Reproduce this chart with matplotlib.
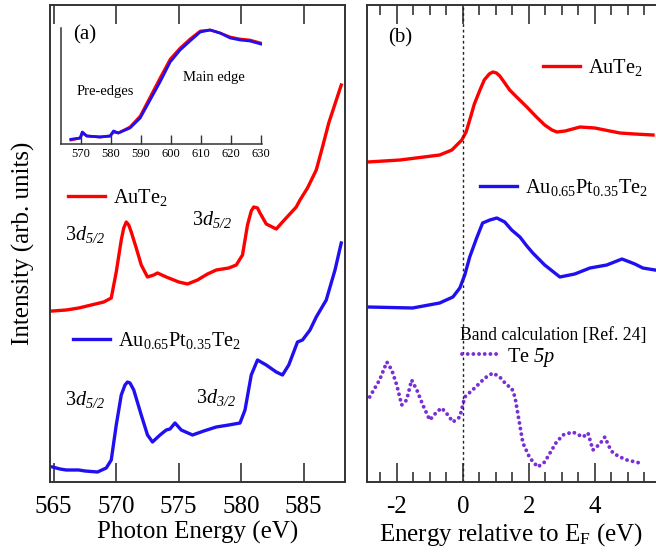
import numpy as np
import matplotlib
matplotlib.use('Agg')
import matplotlib.pyplot as plt
from matplotlib.legend import Legend
from matplotlib.ticker import MultipleLocator

plt.rcParams['font.family'] = ['Liberation Serif', 'DejaVu Serif']
plt.rcParams['mathtext.fontset'] = 'custom'
plt.rcParams['mathtext.rm'] = 'Liberation Serif'
plt.rcParams['mathtext.it'] = 'Liberation Serif:italic'
# \mathbf se usa como cursiva que tambien inclina los digitos (5/2, 5p)
plt.rcParams['mathtext.bf'] = 'Liberation Serif:italic'
plt.rcParams['axes.unicode_minus'] = False

ROJO = '#ff0000'
AZUL = '#2010f0'
MORADO = '#7a2ed6'
ESPINA = '#333333'

# (a) Te M-edge XAS, AuTe2 (rojo) y Au0.65Pt0.35Te2 (azul)
e_rojo_a = [564.9, 566, 567, 568, 569, 569.6, 570.0, 570.4, 570.6, 570.8, 571.0, 571.2,
            571.6, 572.0, 572.5, 573.0, 573.3, 574.0, 575.0, 575.7, 576.5, 577.3, 578.0,
            579.0, 579.6, 580.1, 580.5, 580.8, 581.0, 581.3, 581.5, 582.0, 582.8, 583.3,
            584.4, 584.7, 585.3, 586.0, 586.5, 587.0, 587.5, 588.0]
i_rojo_a = [1.71, 1.72, 1.74, 1.77, 1.80, 1.84, 2.10, 2.42, 2.54, 2.60, 2.57, 2.50,
            2.34, 2.17, 2.05, 2.07, 2.09, 2.05, 2.00, 1.98, 2.02, 2.08, 2.12,
            2.14, 2.17, 2.27, 2.57, 2.71, 2.75, 2.74, 2.69, 2.58, 2.53, 2.60,
            2.75, 2.82, 2.94, 3.12, 3.35, 3.59, 3.78, 3.97]

e_azul_a = [564.9, 565.5, 566, 567, 567.5, 568.5, 569.2, 569.6, 570.0, 570.4, 570.7, 570.9,
            571.1, 571.4, 572.0, 572.5, 572.9, 573.5, 574.0, 574.3, 574.7, 575.2, 576.1,
            577.0, 578.0, 579.0, 579.9, 580.3, 580.8, 581.3, 582.0, 582.8, 583.3, 583.8,
            584.5, 584.9, 585.5, 586.0, 586.8, 587.5, 588.0]
i_azul_a = [0.15, 0.13, 0.12, 0.12, 0.11, 0.10, 0.14, 0.22, 0.57, 0.87, 0.97, 1.00,
            0.99, 0.92, 0.67, 0.47, 0.40, 0.47, 0.52, 0.53, 0.59, 0.52, 0.47,
            0.51, 0.55, 0.57, 0.59, 0.72, 1.07, 1.22, 1.17, 1.10, 1.07, 1.17,
            1.40, 1.42, 1.52, 1.65, 1.82, 2.12, 2.39]

# inset: espectro amplio
e_inset = [566.7, 569.8, 570.5, 572, 576.4, 579.8, 580.9, 582.5, 586.4, 589.8, 593.1,
           596.4, 599.8, 603.1, 606.4, 609.8, 613.1, 616.4, 619.8, 623.1, 626.4, 630]
i_inset_rojo = [0.04, 0.06, 0.11, 0.08, 0.07, 0.08, 0.12, 0.11, 0.17, 0.28, 0.47,
                0.66, 0.85, 0.96, 1.05, 1.13, 1.14, 1.11, 1.07, 1.05, 1.04, 1.01]
i_inset_azul = [0.047, 0.06, 0.12, 0.08, 0.07, 0.08, 0.13, 0.11, 0.16, 0.26, 0.44,
                0.62, 0.82, 0.94, 1.03, 1.12, 1.14, 1.11, 1.06, 1.04, 1.03, 1.00]

# (b) energia relativa a E_F
e_rojo_b = [-2.88, -1.9, -0.7, -0.33, -0.03, 0.1, 0.21, 0.35, 0.52, 0.65, 0.8, 0.91,
            1.02, 1.12, 1.25, 1.42, 1.6, 1.94, 2.2, 2.48, 2.7, 2.85, 3.1, 3.55, 4.0,
            4.45, 4.76, 5.2, 5.76]
i_rojo_b = [3.20, 3.22, 3.27, 3.32, 3.42, 3.50, 3.62, 3.78, 3.92, 4.02, 4.08, 4.10,
            4.09, 4.06, 4.00, 3.92, 3.86, 3.75, 3.66, 3.57, 3.52, 3.50, 3.51, 3.55, 3.54,
            3.51, 3.49, 3.48, 3.47]

e_azul_b = [-2.88, -1.52, -0.7, -0.3, -0.09, 0.06, 0.21, 0.42, 0.6, 0.82, 1.03, 1.27,
            1.48, 1.73, 1.94, 2.12, 2.48, 2.94, 3.39, 3.85, 4.36, 4.82, 5.21, 5.45, 5.82]
i_azul_b = [1.75, 1.74, 1.79, 1.85, 1.94, 2.07, 2.25, 2.44, 2.59, 2.62, 2.64, 2.60,
            2.52, 2.45, 2.36, 2.29, 2.17, 2.05, 2.08, 2.14, 2.17, 2.23, 2.18, 2.14, 2.12]

e_te5p = [-2.82, -2.52, -2.3, -2.15, -2.0, -1.85, -1.7, -1.55, -1.39, -1.21, -1.0, -0.79,
          -0.64, -0.45, -0.3, -0.09, 0.06, 0.36, 0.67, 0.91, 1.12, 1.33, 1.48, 1.58,
          1.7, 1.82, 2.03, 2.27, 2.48, 2.64, 2.82, 3.03, 3.33, 3.64, 3.79, 3.94, 4.15,
          4.3, 4.45, 4.55, 4.76, 4.97, 5.36]
i_te5p = [0.85, 1.02, 1.20, 1.12, 0.97, 0.77, 0.82, 1.02, 0.92, 0.77, 0.62, 0.70,
          0.74, 0.67, 0.60, 0.65, 0.85, 0.94, 1.04, 1.09, 1.05, 0.97, 0.94, 0.85,
          0.62, 0.39, 0.24, 0.15, 0.20, 0.29, 0.39, 0.47, 0.50, 0.45, 0.49, 0.32, 0.38,
          0.45, 0.34, 0.29, 0.25, 0.22, 0.19]

LW = 2.4
FS_TICK = 18
FS_LAB = 18
FS_LEG = 14.7


def leyenda(ax, linea, texto, x, y):
    # una leyenda suelta por curva, sin marco
    leg = Legend(ax, [linea], [texto], loc='center left', bbox_to_anchor=(x, y),
                 frameon=False, handlelength=1.8, handletextpad=0.4,
                 borderpad=0, borderaxespad=0, fontsize=FS_LEG)
    ax.add_artist(leg)


def estilo_espinas(ax, lw=1.4):
    for s in ax.spines.values():
        s.set_linewidth(lw)
        s.set_color(ESPINA)


fig = plt.figure(figsize=(6.56, 5.54), dpi=100)

# ---------------- panel (a)
ax1 = fig.add_axes([50 / 656, 72 / 554, 295 / 656, 477 / 554])
l_rojo, = ax1.plot(e_rojo_a, i_rojo_a, color=ROJO, lw=LW, solid_joinstyle='round')
l_azul, = ax1.plot(e_azul_a, i_azul_a, color=AZUL, lw=LW, solid_joinstyle='round')
ax1.set_xlim(564.7, 588.3)
ax1.set_ylim(0, 4.77)
ax1.xaxis.set_major_locator(MultipleLocator(5))
ax1.set_yticks([])
ax1.tick_params(axis='x', direction='in', length=13.5, width=1.2, color=ESPINA,
                top=True, labelsize=FS_TICK, pad=10)
ax1.set_xlabel('Photon Energy (eV)', fontsize=FS_LAB, labelpad=2)
ax1.set_ylabel('Intensity (arb. units)', fontsize=FS_LAB, labelpad=11)
estilo_espinas(ax1)

leyenda(ax1, l_rojo, 'AuTe$_2$', 0.061, 0.597)
leyenda(ax1, l_azul, 'Au$_{0.65}$Pt$_{0.35}$Te$_2$', 0.078, 0.296)

ax1.text(565.9, 2.47, r'3$\mathbf{d_{5/2}}$', fontsize=14.5, va='center')
ax1.text(576.1, 2.62, r'3$\mathbf{d_{5/2}}$', fontsize=14.5, va='center')
ax1.text(565.9, 0.82, r'3$\mathbf{d_{5/2}}$', fontsize=14.5, va='center')
ax1.text(576.4, 0.85, r'3$\mathbf{d_{3/2}}$', fontsize=14.5, va='center')
ax1.text(0.078, 0.937, '(a)', transform=ax1.transAxes, fontsize=15, va='center')

# inset
axi = fig.add_axes([61 / 656, 410 / 554, 201 / 656, 116 / 554])
axi.patch.set_alpha(0)
axi.plot(e_inset, i_inset_rojo, color=ROJO, lw=2.0)
axi.plot(e_inset, i_inset_azul, color=AZUL, lw=2.0)
axi.set_xlim(563.4, 630.4)
axi.set_ylim(0, 1.16)
axi.set_xticks(np.arange(570, 631, 10))
axi.set_yticks([])
axi.tick_params(axis='x', direction='in', length=6.5, width=1.0, color=ESPINA,
                labelsize=9, pad=3)
axi.spines['top'].set_visible(False)
axi.spines['right'].set_visible(False)
estilo_espinas(axi, 1.1)
axi.text(568.7, 0.52, 'Pre-edges', fontsize=10.5, va='center')
axi.text(604, 0.67, 'Main edge', fontsize=10.5, va='center')

# ---------------- panel (b)
ax2 = fig.add_axes([367 / 656, 72 / 554, 289 / 656, 477 / 554])
r_b, = ax2.plot(e_rojo_b, i_rojo_b, color=ROJO, lw=LW, solid_joinstyle='round')
a_b, = ax2.plot(e_azul_b, i_azul_b, color=AZUL, lw=LW, solid_joinstyle='round')
t_b, = ax2.plot(e_te5p, i_te5p, color=MORADO, lw=2.8, linestyle=(0, (0.01, 1.45)),
                dash_capstyle='round')
ax2.axvline(0, color='#222222', lw=1.0, linestyle=(0, (2, 2)))
ax2.set_xlim(-2.9, 5.85)
ax2.set_ylim(0, 4.77)
ax2.xaxis.set_major_locator(MultipleLocator(2))
ax2.xaxis.set_minor_locator(MultipleLocator(0.5))
ax2.set_yticks([])
ax2.tick_params(axis='x', which='major', direction='in', length=13.5, width=1.2,
                color=ESPINA, top=True, labelsize=FS_TICK, pad=10)
ax2.tick_params(axis='x', which='minor', direction='in', length=7, width=1.2,
                color=ESPINA, top=True)
ax2.spines['right'].set_visible(False)
ax2.set_xlabel('Energy relative to E$_\\mathrm{F}$ (eV)', fontsize=FS_LAB, labelpad=2)
estilo_espinas(ax2)

leyenda(ax2, r_b, 'AuTe$_2$', 0.609, 0.868)
leyenda(ax2, a_b, 'Au$_{0.65}$Pt$_{0.35}$Te$_2$', 0.391, 0.618)
leyenda(ax2, t_b, r'Te $\mathbf{5p}$', 0.329, 0.262)
ax2.text(0.322, 0.308, 'Band calculation [Ref. 24]', transform=ax2.transAxes,
         fontsize=12.7, va='center')
ax2.text(0.073, 0.931, '(b)', transform=ax2.transAxes, fontsize=15, va='center')

fig.savefig('out.png', dpi=100)
